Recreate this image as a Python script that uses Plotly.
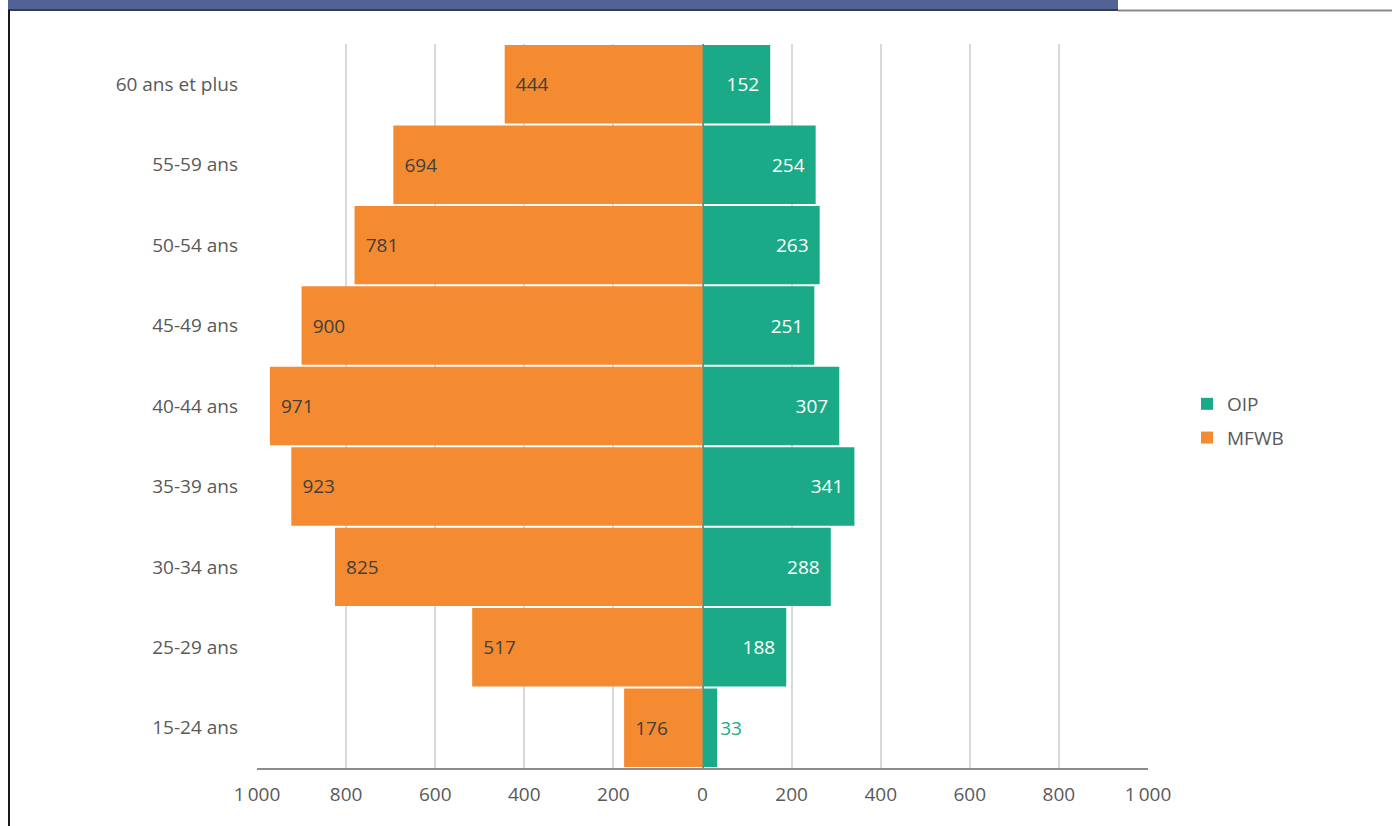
import plotly.graph_objects as go

# données
categories = ["15-24 ans", "25-29 ans", "30-34 ans", "35-39 ans", "40-44 ans",
              "45-49 ans", "50-54 ans", "55-59 ans", "60 ans et plus"]
mfwb = [176, 517, 825, 923, 971, 900, 781, 694, 444]
oip = [33, 188, 288, 341, 307, 251, 263, 254, 152]
tick_vals = [-1000, -800, -600, -400, -200, 0, 200, 400, 600, 800, 1000]
tick_text = ["1\u2009000", "800", "600", "400", "200", "0", "200", "400", "600", "800", "1\u2009000"]

ORANGE = "#F48B31"
GREEN = "#1BAA88"
FONT = "Open Sans"
FS = 19

W, H = 1392, 826
L, R, T, B = 257, 1148, 44, 768


def px(x):
    return (x - L) / (R - L)


def py(y):
    return (B - y) / (B - T)


pad = "\u00a0\u2009"

fig = go.Figure()
fig.add_trace(go.Bar(
    y=categories, x=oip, orientation="h", name="OIP", legendgroup="oip",
    marker=dict(color=GREEN, line=dict(width=0)),
    text=[str(v) if v < 60 else str(v) + pad for v in oip],
    textposition=["outside" if v < 60 else "inside" for v in oip],
    insidetextanchor="end",
    insidetextfont=dict(color="white", size=FS, family=FONT),
    outsidetextfont=dict(color=GREEN, size=FS, family=FONT),
    cliponaxis=False,
))
fig.add_trace(go.Bar(
    y=categories, x=[-v for v in mfwb], orientation="h", name="MFWB", legendgroup="mfwb",
    marker=dict(color=ORANGE, line=dict(width=0)),
    text=[pad + str(v) for v in mfwb],
    textposition="inside",
    insidetextanchor="end",
    insidetextfont=dict(color="#404040", size=FS, family=FONT),
))

fig.update_layout(
    width=W, height=H,
    margin=dict(l=L, r=W - R, t=T, b=H - B),
    barmode="relative", bargap=0.025,
    paper_bgcolor="white", plot_bgcolor="white",
    font=dict(family=FONT, size=FS, color="#595959"),
    uniformtext=dict(minsize=FS, mode="show"),
    legend=dict(x=px(1187), y=py(421), xanchor="left", yanchor="middle",
                font=dict(size=FS, color="#595959"), itemwidth=30,
                tracegroupgap=6),
    xaxis=dict(range=[-1000, 1000], tickvals=tick_vals, ticktext=tick_text,
               showgrid=True, gridcolor="#D9D9D9", gridwidth=2,
               zeroline=True, zerolinecolor="#8C8C8C", zerolinewidth=2,
               showline=True, linecolor="#8C8C8C", linewidth=2,
               tickfont=dict(size=FS, color="#595959"), ticks="",
               ticklabelstandoff=8),
    yaxis=dict(showgrid=False, zeroline=False, ticks="", ticklen=0,
               tickfont=dict(size=FS, color="#595959"), automargin=False,
               ticklabelstandoff=18),
    showlegend=True,
)

# bandeau en haut et bordure gauche
fig.add_shape(type="rect", xref="paper", yref="paper",
              x0=px(8), x1=px(1118), y0=py(10), y1=py(-2),
              fillcolor="#526294", line=dict(width=0), layer="above")
fig.add_shape(type="line", xref="paper", yref="paper",
              x0=px(8), x1=px(1118), y0=py(10), y1=py(10),
              line=dict(color="#353A55", width=2))
fig.add_shape(type="line", xref="paper", yref="paper",
              x0=px(1118), x1=px(1400), y0=py(10.5), y1=py(10.5),
              line=dict(color="#8A8A8A", width=2))
fig.add_shape(type="line", xref="paper", yref="paper",
              x0=px(9), x1=px(9), y0=py(10), y1=py(840),
              line=dict(color="#1A1A1A", width=2))

fig.write_html("out.html", config={"displayModeBar": False},
               post_script="document.body.style.margin='0';document.body.style.overflow='hidden';")
